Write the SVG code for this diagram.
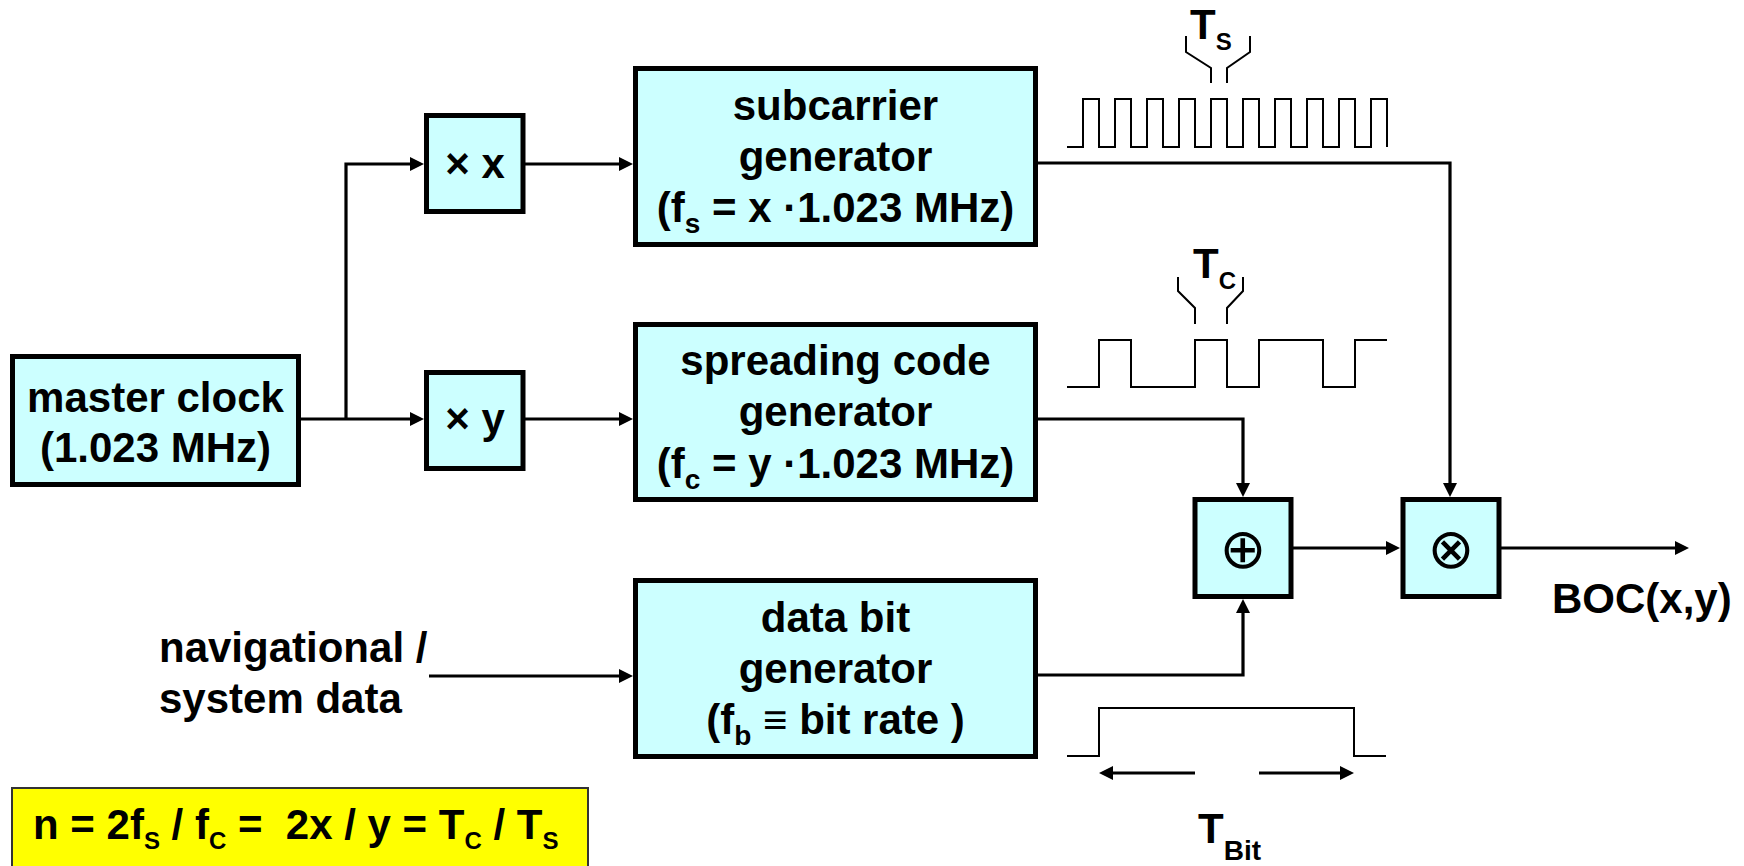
<svg xmlns="http://www.w3.org/2000/svg" width="1744" height="866" viewBox="0 0 1744 866">
<style>
  .box { fill: #CCFFFF; stroke: #000; stroke-width: 5; }
  .lbl { font-family: "Liberation Sans", Arial, sans-serif; font-weight: bold; font-size: 42px; fill: #000; }
  .c { text-anchor: middle; }
  .conn { fill: none; stroke: #000; stroke-width: 3.2; }
  .wave { fill: none; stroke: #000; stroke-width: 2; }
  .sym { font-family: "DejaVu Sans", sans-serif; font-size: 56px; text-anchor: middle; fill: #000; }
</style>
<defs>
  <marker id="arr" viewBox="0 0 14 14" refX="2" refY="7" markerWidth="14" markerHeight="14" markerUnits="userSpaceOnUse" orient="auto">
    <path d="M0,0 L14,7 L0,14 z" fill="#000"/>
  </marker>
</defs>
<rect width="1744" height="866" fill="#fff"/>

<g id="connectors">
  <path class="conn" d="M301,419 H412" marker-end="url(#arr)"/>
  <path class="conn" d="M346,419 V164 H412" marker-end="url(#arr)"/>
  <path class="conn" d="M525,164 H621" marker-end="url(#arr)"/>
  <path class="conn" d="M525,419 H621" marker-end="url(#arr)"/>
  <path class="conn" d="M1037,163 H1450 V485" marker-end="url(#arr)"/>
  <path class="conn" d="M1038,419 H1243 V485" marker-end="url(#arr)"/>
  <path class="conn" d="M1038,675 H1243 V611" marker-end="url(#arr)"/>
  <path class="conn" d="M1293,548 H1388" marker-end="url(#arr)"/>
  <path class="conn" d="M1501,548 H1677" marker-end="url(#arr)"/>
  <path class="conn" d="M429,676 H621" marker-end="url(#arr)"/>
</g>

<g id="master-clock">
  <rect class="box" x="12.5" y="356.5" width="286" height="128"/>
  <text class="lbl c" x="155.5" y="412">master clock</text>
  <text class="lbl c" x="155.5" y="462">(1.023 MHz)</text>
</g>

<g id="mult-x">
  <rect class="box" x="426.5" y="115.5" width="96.5" height="96"/>
  <text class="lbl c" x="475" y="178">× x</text>
</g>

<g id="mult-y">
  <rect class="box" x="426.5" y="372.5" width="96.5" height="96"/>
  <text class="lbl c" x="475" y="433">× y</text>
</g>

<g id="subcarrier-generator">
  <rect class="box" x="635.5" y="68.5" width="400" height="176"/>
  <text class="lbl c" x="835.5" y="120">subcarrier</text>
  <text class="lbl c" x="835.5" y="171">generator</text>
  <text class="lbl c" x="835.5" y="222">(f<tspan font-size="28" dy="11">s</tspan><tspan dy="-11"> = x ·1.023 MHz)</tspan></text>
</g>

<g id="spreading-code-generator">
  <rect class="box" x="635.5" y="324.5" width="400" height="175"/>
  <text class="lbl c" x="835.5" y="375">spreading code</text>
  <text class="lbl c" x="835.5" y="426">generator</text>
  <text class="lbl c" x="835.5" y="478">(f<tspan font-size="28" dy="11">c</tspan><tspan dy="-11"> = y ·1.023 MHz)</tspan></text>
</g>

<g id="data-bit-generator">
  <rect class="box" x="635.5" y="580.5" width="400" height="176"/>
  <text class="lbl c" x="835.5" y="632">data bit</text>
  <text class="lbl c" x="835.5" y="683">generator</text>
  <text class="lbl c" x="835.5" y="734">(f<tspan font-size="28" dy="11">b</tspan><tspan dy="-11"> ≡ bit rate )</tspan></text>
</g>

<g id="xor">
  <rect class="box" x="1195" y="499.5" width="96" height="97"/>
  <text class="sym" x="1243" y="568">⊕</text>
</g>

<g id="mixer">
  <rect class="box" x="1403" y="499.5" width="96" height="97"/>
  <text class="sym" x="1451" y="568">⊗</text>
</g>

<g id="nav-data">
  <text class="lbl" x="159" y="662">navigational /</text>
  <text class="lbl" x="159" y="713">system data</text>
</g>

<g id="boc-output">
  <text class="lbl" x="1552" y="613">BOC(x,y)</text>
</g>

<g id="subcarrier-waveform">
  <path class="wave" d="M1067,147 H1083 V99 H1099 V147 H1115 V99 H1131 V147 H1147 V99 H1163 V147 H1179 V99 H1195 V147 H1211 V99 H1227 V147 H1243 V99 H1259 V147 H1275 V99 H1291 V147 H1307 V99 H1323 V147 H1339 V99 H1355 V147 H1371 V99 H1387 V147"/>
  <path class="wave" d="M1186,36 V52 L1211,68 V83 M1250,36 V52 L1227,68 V83"/>
  <text class="lbl" x="1190" y="39">T<tspan font-size="24" dy="11">S</tspan></text>
</g>

<g id="code-waveform">
  <path class="wave" d="M1067,387 H1099 V340 H1131 V387 H1195 V340 H1227 V387 H1259 V340 H1323 V387 H1355 V340 H1387"/>
  <path class="wave" d="M1178,277 V291 L1195,308 V324 M1243,277 V291 L1227,308 V324"/>
  <text class="lbl" x="1193" y="278">T<tspan font-size="24" dy="11">C</tspan></text>
</g>

<g id="bit-waveform">
  <path class="wave" d="M1067,756 H1099 V708 H1354 V756 H1386"/>
  <path class="conn" d="M1195,773 H1111" marker-end="url(#arr)"/>
  <path class="conn" d="M1259,773 H1342" marker-end="url(#arr)"/>
  <text class="lbl" x="1198" y="843">T<tspan font-size="28" dy="17">Bit</tspan></text>
</g>

<g id="formula">
  <rect x="12" y="788" width="576" height="100" fill="#FFFF00" stroke="#333" stroke-width="2"/>
  <text class="lbl" x="33" y="839" style="white-space:pre">n = 2f<tspan font-size="24" dy="10">S</tspan><tspan dy="-10"> / f</tspan><tspan font-size="24" dy="10">C</tspan><tspan dy="-10"> =  2x / y = T</tspan><tspan font-size="24" dy="10">C</tspan><tspan dy="-10"> / T</tspan><tspan font-size="24" dy="10">S</tspan></text>
</g>
</svg>
